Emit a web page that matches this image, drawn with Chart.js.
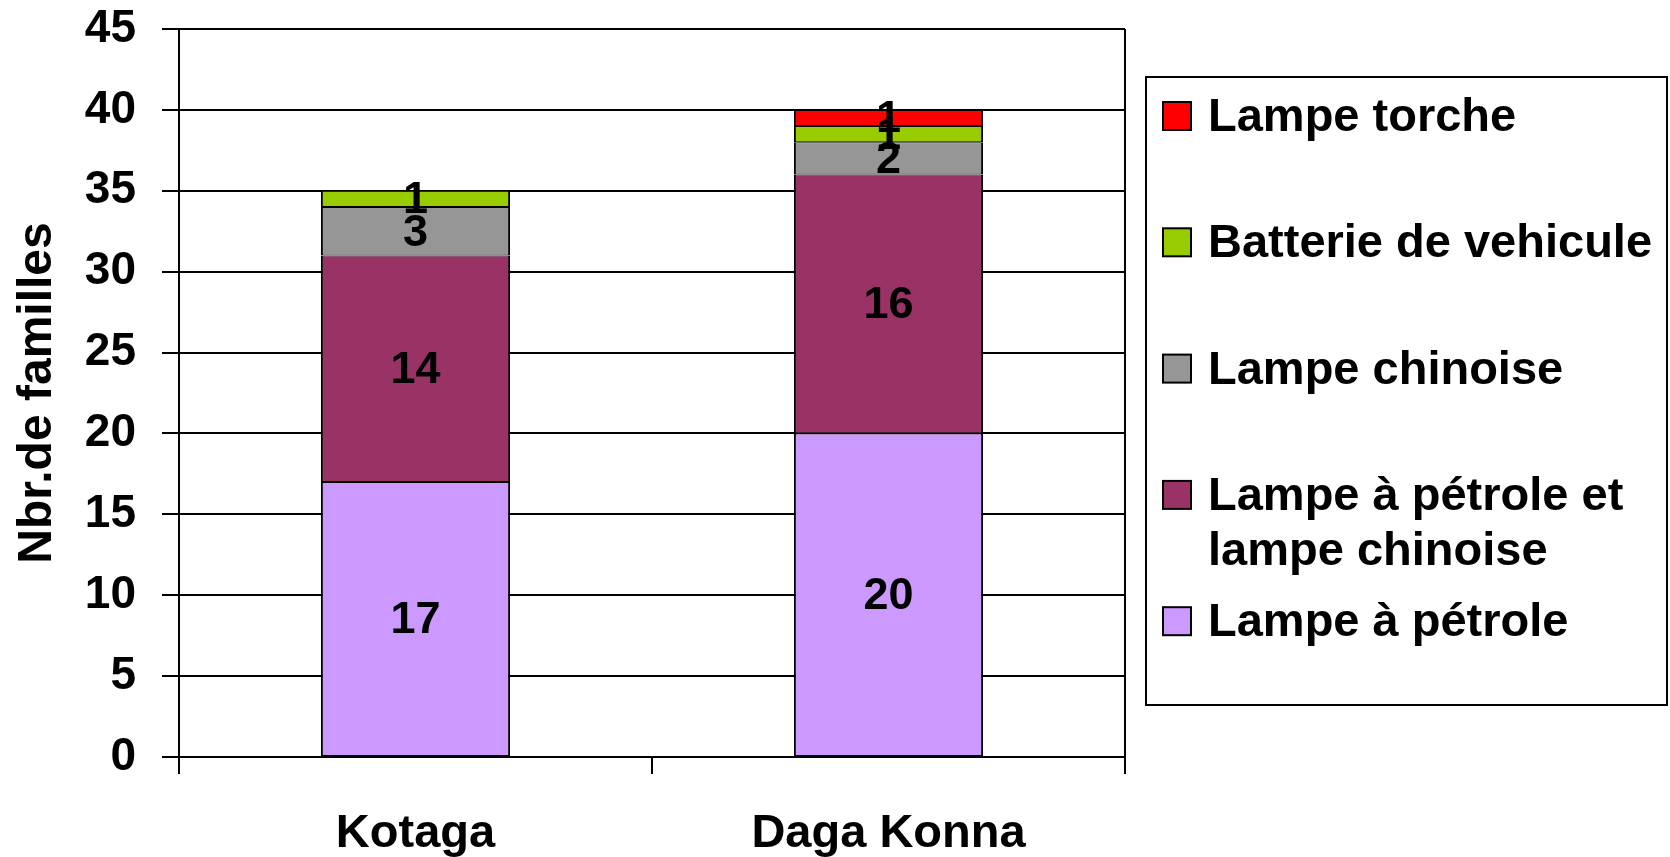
<!DOCTYPE html>
<html lang="fr">
<head>
<meta charset="UTF-8">
<title>Eclairage des familles</title>
<script src="https://cdn.jsdelivr.net/npm/chart.js"></script>
<style>
  body { margin: 0; background: #fff; }
  #boite { width: 1670px; height: 857px; }
</style>
</head>
<body>
<div id="boite"><canvas id="Grafico"></canvas></div>
<script>
  // donnees
  const villages = ['Kotaga', 'Daga Konna']
  const lampePetrole = [17, 20]
  const petroleEtChinoise = [14, 16]
  const lampeChinoise = [3, 2]
  const batterie = [1, 1]
  const lampeTorche = [0, 1]
  const yTicks = [0, 5, 10, 15, 20, 25, 30, 35, 40, 45]

  const police = 'Liberation Sans, Arial, sans-serif'
  Chart.defaults.color = '#000'

  // etiquettes au centre de chaque segment
  const etiquettes = {
    id: 'etiquettes',
    afterDatasetsDraw(chart) {
      const ctx = chart.ctx
      ctx.save()
      ctx.font = 'bold 45px ' + police
      ctx.fillStyle = '#000'
      ctx.textAlign = 'center'
      ctx.textBaseline = 'middle'
      chart.data.datasets.forEach((ds, i) => {
        chart.getDatasetMeta(i).data.forEach((bar, j) => {
          const v = ds.data[j]
          if (!v) return
          ctx.fillText(String(v), bar.x, (bar.y + bar.base) / 2 + 2)
        })
      })
      ctx.restore()
    }
  }

  // bord droit du cadre + legende encadree
  const legende = {
    id: 'legende',
    afterDraw(chart) {
      const ctx = chart.ctx
      const a = chart.chartArea
      ctx.save()
      ctx.strokeStyle = '#000'
      ctx.lineWidth = 2
      ctx.beginPath()
      ctx.moveTo(a.right, a.top)
      ctx.lineTo(a.right, a.bottom)
      ctx.stroke()

      const bx = 1146, by = 77, bw = 521, bh = 628
      ctx.strokeRect(bx, by, bw, bh)

      ctx.font = 'bold 47px ' + police
      ctx.textAlign = 'left'
      ctx.textBaseline = 'middle'
      const items = chart.data.datasets.slice().reverse()
      items.forEach((ds, k) => {
        const cy = 116 + k * 126.3
        ctx.fillStyle = ds.backgroundColor
        ctx.fillRect(1163, cy - 14, 28, 28)
        ctx.lineWidth = 2
        ctx.strokeRect(1163, cy - 14, 28, 28)
        ctx.fillStyle = '#000'
        // decoupe en lignes
        const mots = ds.label.split(' ')
        const lignes = []
        let cur = ''
        mots.forEach(m => {
          const essai = cur ? cur + ' ' + m : m
          if (ctx.measureText(essai).width > 455 && cur) { lignes.push(cur); cur = m } else cur = essai
        })
        lignes.push(cur)
        lignes.forEach((l, n) => ctx.fillText(l, 1208, cy + 2 + n * 55))
      })
      ctx.restore()
    }
  }

  const ctx = document.getElementById('Grafico')
  new Chart(ctx, {
    type: 'bar',
    data: {
      labels: villages,
      datasets: [
        { label: 'Lampe à pétrole', data: lampePetrole, backgroundColor: '#CC99FF' },
        { label: 'Lampe à pétrole et lampe chinoise', data: petroleEtChinoise, backgroundColor: '#993366' },
        { label: 'Lampe chinoise', data: lampeChinoise, backgroundColor: '#969696' },
        { label: 'Batterie de vehicule', data: batterie, backgroundColor: '#99CC00' },
        { label: 'Lampe torche', data: lampeTorche, backgroundColor: '#FF0000' }
      ].map(d => Object.assign(d, {
        borderColor: '#000',
        borderWidth: { top: 1, bottom: 1, left: 2, right: 2 },
        borderSkipped: false,
        categoryPercentage: 1, barPercentage: 0.4
      }))
    },
    options: {
      responsive: true,
      maintainAspectRatio: false,
      animation: false,
      layout: { padding: { top: 29, right: 545, left: 0, bottom: 0 } },
      plugins: { legend: { display: false }, tooltip: { enabled: false } },
      scales: {
        x: {
          stacked: true,
          grid: { offset: true, drawOnChartArea: false, tickLength: 17, color: '#000', lineWidth: 2 },
          border: { color: '#000', width: 2 },
          ticks: { font: { family: police, size: 47, weight: 'bold' }, padding: 32 },
          afterFit(s) { s.height = 100 }
        },
        y: {
          stacked: true,
          min: 0,
          max: 45,
          afterBuildTicks(s) { s.ticks = yTicks.map(v => ({ value: v })) },
          ticks: { font: { family: police, size: 46, weight: 'bold' }, padding: 26 },
          grid: { color: '#000', lineWidth: 2, tickLength: 17 },
          border: { color: '#000', width: 2 },
          title: {
            display: true,
            text: 'Nbr.de familles',
            font: { family: police, size: 48, weight: 'bold' },
            padding: { top: 9, bottom: 0 }
          },
          afterFit(s) { s.width = 179; s.paddingTop = 0; s.paddingBottom = 0 }
        }
      }
    },
    plugins: [etiquettes, legende]
  })
</script>
</body>
</html>
